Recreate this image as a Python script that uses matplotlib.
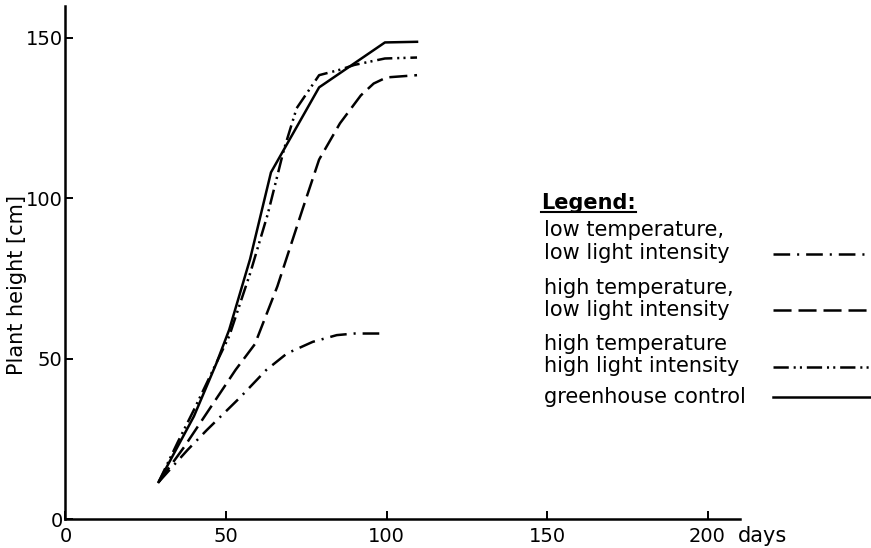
import matplotlib
matplotlib.use('Agg')
from matplotlib import pyplot as plt
from matplotlib import font_manager
from matplotlib.lines import Line2D
from matplotlib.transforms import IdentityTransform

plt.rcParams['font.family'] = ['DejaVu Sans']
plt.rcParams['lines.scale_dashes'] = False

# narrow digits on the axes if the font is there
installed = {f.name for f in font_manager.fontManager.ttflist}
tick_font = 'Liberation Sans Narrow' if 'Liberation Sans Narrow' in installed else 'DejaVu Sans'

# greenhouse control (solid)
days_ctrl = [29, 40, 47, 51, 57.5, 64, 79, 99.5, 109.5]
h_ctrl = [11.5, 32, 48.5, 59, 81, 108, 134.5, 148.5, 148.7]

# high temperature, high light intensity (dash-dot-dot)
days_hthl = [29, 35, 40, 51, 57.5, 63, 68, 72, 79, 85.5, 90, 99.5, 109.5]
h_hthl = [11.5, 24, 34, 57, 76.5, 95, 115, 128, 138.3, 140, 141.5, 143.5, 143.8]

# high temperature, low light intensity (dashed)
days_htll = [29, 37, 42, 53, 59, 66, 74, 79, 85.5, 92, 96, 100, 109.5]
h_htll = [11.5, 22.5, 30, 46.5, 54.5, 72.5, 97, 112, 123.3, 132, 135.7, 137.6, 138.3]

# low temperature, low light intensity (dash-dot)
days_ltll = [29, 38, 44, 54.5, 62.5, 69, 77, 84.5, 90, 99.5]
h_ltll = [11.5, 21.5, 27.7, 38, 46.4, 51.6, 55.2, 57.3, 57.8, 57.8]

labels = ['low temperature,\nlow light intensity',
          'high temperature,\nlow light intensity',
          'high temperature\nhigh light intensity',
          'greenhouse control']

dash_ltll = (0, (12, 5, 1.5, 5))
dash_htll = (0, (13, 5))
dash_hthl = (0, (11, 3.5, 1.5, 3, 1.5, 3.5))

lw = 1.8
fig = plt.figure(figsize=(8.71, 5.48), dpi=100)
ax = fig.add_axes([0.0752, 0.0529, 0.774, 0.937])

ax.plot(days_ltll, h_ltll, color='black', lw=lw, linestyle=dash_ltll)
ax.plot(days_htll, h_htll, color='black', lw=lw, linestyle=dash_htll)
ax.plot(days_hthl, h_hthl, color='black', lw=lw, linestyle=dash_hthl)
ax.plot(days_ctrl, h_ctrl, color='black', lw=lw, linestyle='-')

ax.set_xlim(0, 210)
ax.set_ylim(0, 160)
ax.spines['top'].set_visible(False)
ax.spines['right'].set_visible(False)
ax.spines['left'].set_linewidth(1.8)
ax.spines['bottom'].set_linewidth(1.8)
ax.set_xticks([0, 50, 100, 150, 200])
ax.set_yticks([0, 50, 100, 150])
ax.tick_params(direction='in', length=6, width=1.4, labelsize=14)
ax.tick_params(axis='x', pad=6)
ax.tick_params(axis='y', pad=2)
for t in ax.get_xticklabels() + ax.get_yticklabels():
    t.set_fontfamily(tick_font)

ax.set_ylabel('Plant height [cm]', fontsize=15)
ax.yaxis.set_label_coords(-0.057, 0.456)
ax.text(0.998, -0.033, 'days', transform=ax.transAxes, fontsize=15,
        ha='left', va='center')

# legend drawn by hand: text left, line samples right
W, H = 871, 548
title = fig.text(541 / W, 1 - 203 / H, 'Legend:', fontsize=15,
                 fontweight='bold', ha='left', va='center')
text_y = [241.5, 299, 355, 397]
line_y = [254, 310, 367, 397]
styles = [dash_ltll, dash_htll, dash_hthl, '-']
for lab, ty, ly, st in zip(labels, text_y, line_y, styles):
    fig.text(544 / W, 1 - ty / H, lab, fontsize=15, ha='left', va='center',
             linespacing=1.15)
    fig.add_artist(Line2D([773 / W, 871 / W], [1 - ly / H, 1 - ly / H],
                          transform=fig.transFigure, color='black', lw=lw,
                          linestyle=st))

fig.canvas.draw()
bb = title.get_window_extent()
fig.add_artist(Line2D([bb.x0, bb.x1], [bb.y0 + 1, bb.y0 + 1],
                      transform=IdentityTransform(), color='black', lw=1.5))

fig.savefig('out.png', dpi=100)
